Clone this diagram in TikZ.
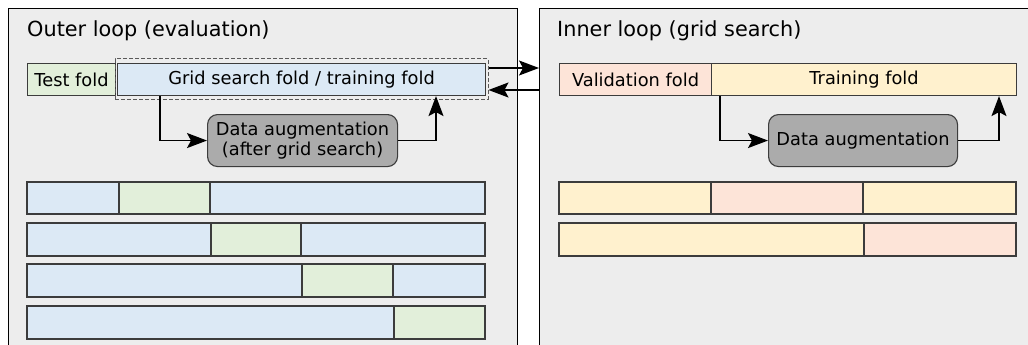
\documentclass[tikz,border=0pt]{standalone}
\usepackage{fontspec}
\setmainfont{DejaVu Sans}
\usetikzlibrary{arrows.meta,fit,positioning}
\definecolor{panelbg}{HTML}{EDEDED}
\definecolor{bluef}{HTML}{DCE9F5}
\definecolor{greenf}{HTML}{E2EFDA}
\definecolor{pinkf}{HTML}{FDE4D8}
\definecolor{yellowf}{HTML}{FFF1CE}
\definecolor{augf}{HTML}{ABABAB}
\definecolor{bord}{HTML}{3C3C3C}
\tikzset{
  panel/.style={draw=black, line width=1.3pt, fill=panelbg, anchor=north west, inner sep=0pt},
  fold/.style={draw=bord, line width=1.1pt, anchor=north west, inner sep=0pt, minimum height=32pt,
    font=\fontsize{17.8}{21}\selectfont},
  seg/.style={draw=bord, line width=1.1pt},
  aug/.style={draw=bord, line width=1.1pt, fill=augf, rounded corners=10pt, anchor=north west,
    inner sep=0pt, minimum width=190pt, minimum height=52pt, align=center,
    font=\fontsize{17.8}{20.5}\selectfont},
  ptitle/.style={anchor=base west, inner sep=0pt, font=\fontsize{20.8}{24}\selectfont},
  arr/.style={line width=1.5pt, -{Stealth[length=20pt,width=15pt,inset=4pt]}},
  dbox/.style={draw=black!65, dashed, dash pattern=on 4pt off 2pt, line width=1pt, inner sep=0pt}
}
\begin{document}
\begin{tikzpicture}[x=1pt,y=-1pt]
\useasboundingbox (0,0) rectangle (1028,345);
\clip (0,0) rectangle (1028,345);
% panels
\node[panel, minimum width=509pt, minimum height=370pt] (outer) at (8,8) {};
\node[panel, minimum width=520pt, minimum height=370pt] (inner) at (539,8) {};
\node[ptitle] (otitle) at (27,37) {Outer loop (evaluation)};
\node[ptitle] (ititle) at (557,37) {Inner loop (grid search)};
% outer top row
\node[fold, fill=greenf, minimum width=88pt] (testfold) at (27,63) {Test fold};
\node[fold, fill=bluef, minimum width=368pt] (gridfold) at (117,63) {Grid search fold / training fold};
\coordinate (dtl) at (115,59);
\coordinate (dbr) at (488,99);
\node[dbox, fit=(dtl)(dbr)] (dashbox) {};
\node[aug] (augL) at (207,114) {Data augmentation\\(after grid search)};
\draw[arr] (gridfold.south -| 160,0) |- (augL.west);
\draw[arr] (augL.east) -| (gridfold.south -| 436,0);
% inner top row
\node[fold, fill=pinkf, minimum width=152pt] (valfold) at (559,63) {Validation fold};
\node[fold, fill=yellowf, minimum width=305pt] (trainfold) at (711,63) {Training fold};
\node[aug, minimum width=189pt] (augR) at (768,114) {Data augmentation};
\draw[arr] (trainfold.south -| 720,0) |- (augR.west);
\draw[arr] (augR.east) -| (trainfold.south -| 999,0);
% between panels
\draw[arr] (dashbox.east |- 0,68) -- (inner.west |- 0,68);
\draw[arr] (inner.west |- 0,90) -- (dashbox.east |- 0,90);
% outer rows
\draw[seg, fill=bluef] (27,182) rectangle (119,214);
\draw[seg, fill=greenf] (119,182) rectangle (210,214);
\draw[seg, fill=bluef] (210,182) rectangle (485,214);
\draw[seg, fill=bluef] (27,223) rectangle (211,256);
\draw[seg, fill=greenf] (211,223) rectangle (301,256);
\draw[seg, fill=bluef] (301,223) rectangle (485,256);
\draw[seg, fill=bluef] (27,264) rectangle (302,297);
\draw[seg, fill=greenf] (302,264) rectangle (393,297);
\draw[seg, fill=bluef] (393,264) rectangle (485,297);
\draw[seg, fill=bluef] (27,306) rectangle (394,339);
\draw[seg, fill=greenf] (394,306) rectangle (485,339);
% inner rows
\draw[seg, fill=yellowf] (559,182) rectangle (711,214);
\draw[seg, fill=pinkf] (711,182) rectangle (863,214);
\draw[seg, fill=yellowf] (863,182) rectangle (1016,214);
\draw[seg, fill=yellowf] (559,223) rectangle (864,256);
\draw[seg, fill=pinkf] (864,223) rectangle (1016,256);
\end{tikzpicture}
\end{document}
